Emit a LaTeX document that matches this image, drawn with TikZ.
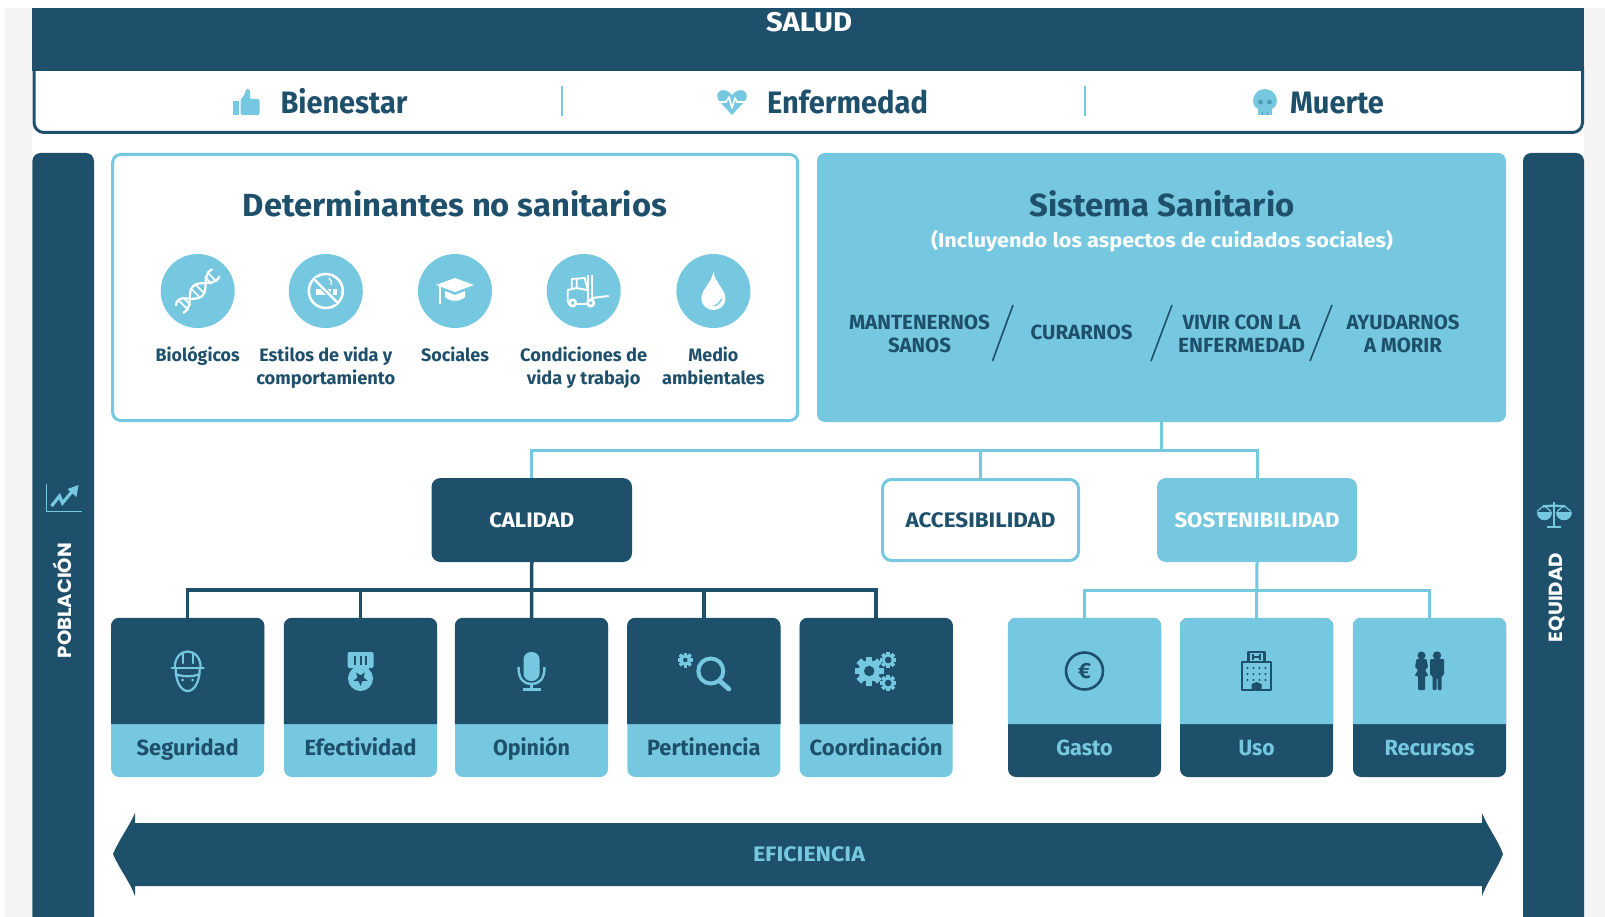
\documentclass[tikz,border=0pt]{standalone}
\usepackage{fontspec}
\usepackage{graphicx}
\setmainfont{Fira Sans}
\newfontfamily\popfont{Poppins}
\definecolor{dark}{HTML}{1F506B}
\definecolor{sky}{HTML}{75C8DF}
\definecolor{paper}{HTML}{F4F4F4}
\definecolor{midsky}{HTML}{4F9DB8}
\newcommand\ft[2]{\resizebox{#1pt}{\height}{#2}}
\tikzset{
  cap/.style={inner sep=0pt,font=\fontsize{#1}{#1}\selectfont\bfseries,text height={0.69pt*#1},text depth=0pt},
  twoline/.style={inner sep=0pt,align=center,font=\fontsize{#1}{23}\selectfont\bfseries},
  lnsky/.style={draw=sky,line width=3pt},
  lndark/.style={draw=dark,line width=3.5pt},
  bigbox/.style={rounded corners=8pt,inner sep=0pt},
  cardnode/.style={minimum width=153pt,minimum height=159pt,rounded corners=8pt,inner sep=0pt},
  medbox/.style={minimum height=84pt,rounded corners=9pt,inner sep=0pt},
  disc/.style={circle,fill=sky,minimum size=74pt,inner sep=0pt},
}
% ---------- icons, all centred on the local origin; y points down
\newcommand\icStar[2]{\fill[#2] (90:#1) -- (126:0.42*#1) -- (162:#1) -- (198:0.42*#1) -- (234:#1) -- (270:0.42*#1) -- (306:#1) -- (342:0.42*#1) -- (18:#1) -- (54:0.42*#1) -- cycle;}
\newcommand\icGear[4]{\begin{scope}[shift={(#1)}]\foreach \a in {0,45,...,135}{\fill[sky,rotate=\a] (-0.22*#2,-#2) rectangle (0.22*#2,#2);\fill[sky,rotate=\a] (-#2,-0.22*#2) rectangle (#2,0.22*#2);}\fill[sky] (0,0) circle (0.74*#2);\fill[#3] (0,0) circle (#4*#2);\end{scope}}
\newcommand\icThumb{%
  \fill[sky] (-13.5,-1) rectangle (-8,13);
  \fill[sky,rounded corners=1.5pt] (-6,-2) -- (-1,-9) -- (-1,-13) -- (3,-13) -- (4,-7) -- (3,-3) -- (13,-3) -- (13,13) -- (-6,13) -- cycle;}
\newcommand\icHeart{%
  \fill[sky] (0,13) -- (-13,-1) .. controls (-19,-10) and (-8,-17) .. (0,-7) .. controls (8,-17) and (19,-10) .. (13,-1) -- cycle;
  \draw[white,line width=1.6pt,line join=round] (-17,0) -- (-6,0) -- (-3,-5) -- (0,6) -- (3,-4) -- (5,0) -- (17,0);}
\newcommand\icSkull{%
  \fill[sky] (-7,13) -- (-7,7) .. controls (-16,3) and (-12,-13) .. (0,-13) .. controls (12,-13) and (16,3) .. (7,7) -- (7,13) -- cycle;
  \fill[midsky] (-4.5,0) circle (2.4) (4.5,0) circle (2.4);
  \draw[midsky,line width=.9pt] (-2.5,10) -- (-2.5,13) (2.5,10) -- (2.5,13);}
\newcommand\icDna{%
  \begin{scope}[rotate=45]
    \draw[white,line width=2.2pt] (-26,-5) .. controls (-17,-12) and (-13,-1) .. (-8,3) .. controls (-3,8) and (3,8) .. (8,3) .. controls (13,-2) and (19,-8) .. (26,-5);
    \draw[white,line width=2.2pt] (-26,5) .. controls (-19,8) and (-13,2) .. (-8,-3) .. controls (-3,-8) and (3,-8) .. (8,-3) .. controls (13,2) and (19,8) .. (26,5);
    \draw[white,line width=1.7pt] (-20,-7) -- (-20,7) (-15,-5) -- (-15,5) (-3,-6) -- (-3,6) (3,-6) -- (3,6) (15,-5) -- (15,5) (20,-7) -- (20,7);
  \end{scope}}
\newcommand\icNoSmoke{%
  \draw[white,line width=2.6pt] (0,0) circle (17);
  \fill[white] (-10,-2) rectangle (5,4);
  \fill[white] (7,-2) rectangle (11,4);
  \draw[white,line width=1.2pt] (5,-6) .. controls (7,-9) and (5,-11) .. (3,-13);
  \draw[sky,line width=5pt] (-11,-12) -- (11,12);
  \draw[white,line width=2.4pt] (-12,-12) -- (12,12);}
\newcommand\icCap{%
  \fill[white] (0,-13) -- (19,-6) -- (0,1) -- (-19,-6) -- cycle;
  \fill[white] (-10,0) -- (0,4) -- (10,0) -- (10,6) .. controls (5,11) and (-5,11) .. (-10,6) -- cycle;
  \draw[white,line width=2pt] (-15,-5) -- (-15,13);}
\newcommand\icLift{%
  \draw[white,line width=1.9pt,line join=round] (-12,-1) -- (-12,-12) -- (1,-13) -- (4,-1);
  \draw[white,line width=1.9pt,line join=round] (-7,-12) -- (-7,-3) -- (3,-1);
  \draw[white,line width=1.9pt,line join=round] (-16,12) -- (-16,-1) -- (-7,-3);
  \draw[white,line width=1.9pt] (-16,13) -- (4,13);
  \draw[white,line width=1.7pt] (4,-16) -- (4,13) (8,-16) -- (8,13);
  \draw[white,line width=2pt] (8,7) -- (25,5);
  \fill[white] (-11,12) circle (4.6) (7,12) circle (4.6);
  \fill[sky] (-11,12) circle (1.9) (7,12) circle (1.9);}
\newcommand\icDrop{%
  \fill[white] (0,-19) .. controls (2,-8) and (12,-1) .. (12,7) .. controls (12,15) and (6,19) .. (0,19) .. controls (-6,19) and (-12,15) .. (-12,7) .. controls (-12,-1) and (-2,-8) .. (0,-19) -- cycle;
  \draw[sky,line width=1.3pt] (8,8) .. controls (7,11) and (4,14) .. (1,15);}
\newcommand\icHelmet{%
  \begin{scope}[line width=2.2pt,line join=round,line cap=round]
    \draw[sky] (-13,-3) .. controls (-13,-25) and (13,-25) .. (13,-3);
    \draw[sky] (-5,-17) -- (-5,-8) (5,-17) -- (5,-8);
    \draw[sky] (-16,-3) -- (16,-3);
    \draw[sky] (-12,-2) .. controls (-12,10) and (-7,20) .. (0,20) .. controls (7,20) and (12,10) .. (12,-2);
    \draw[sky] (-12,3) .. controls (-6,6) and (6,6) .. (12,3);
  \end{scope}
  \fill[sky] (-5,9) circle (1.5) (5,9) circle (1.5);}
\newcommand\icMedal{%
  \fill[sky,rounded corners=2pt] (-13,-19) rectangle (13,-3);
  \draw[dark,line width=2pt] (-5.5,-15) -- (-5.5,-6) (0,-15) -- (0,-6) (5.5,-15) -- (5.5,-6);
  \fill[sky] (-8,-5) rectangle (8,2);
  \fill[sky] (0,7.5) circle (12.5);
  \begin{scope}[shift={(0,7.5)}]\icStar{7.5}{dark}\end{scope}}
\newcommand\icMic{%
  \fill[sky,rounded corners=7.5pt] (-8,-19) rectangle (8,10);
  \draw[sky,line width=2.4pt] (-13,-4) .. controls (-13,9) and (-7,13) .. (0,13) .. controls (7,13) and (13,9) .. (13,-4);
  \draw[sky,line width=2.4pt] (0,13) -- (0,18);
  \draw[sky,line width=2.6pt] (-9,18.5) -- (9,18.5);}
\newcommand\icLens{%
  \draw[sky,line width=4pt] (7,0) circle (12.5);
  \draw[sky,line width=4.8pt,line cap=round] (16,10) -- (25,18);
  \icGear{-18.5,-11}{7.5}{dark}{.3}}
\newcommand\icGears{%
  \icGear{-7,0}{14.5}{dark}{.36}
  \icGear{12,-11}{8}{dark}{.42}
  \icGear{12,12}{8}{dark}{.42}}
\newcommand\icEuro{%
  \draw[dark,line width=2.6pt] (0,0) circle (18.5);
  \node (euroglyph) [inner sep=0pt,text=dark,font=\fontsize{22}{22}\selectfont\bfseries] at (0,0) {€};}
\newcommand\icHosp{%
  \draw[dark,line width=2.5pt,line join=round] (-8,-9) -- (-8,-19) -- (8,-19) -- (8,-9);
  \draw[dark,line width=2.5pt,line join=round] (-14.5,-9) rectangle (14.5,19);
  \draw[dark,line width=1.4pt] (-3.5,-17) -- (-3.5,-11) (3.5,-17) -- (3.5,-11) (-3.5,-14) -- (3.5,-14);
  \foreach \yy in {-3,3,9}{\foreach \xx in {-9,-3,3,9}{\fill[dark] (\xx,\yy) circle (1.2);}}
  \fill[dark] (-5,19) -- (-5,13) -- (0,11) -- (5,13) -- (5,19) -- cycle;}
\newcommand\icPeople{%
  \begin{scope}[shift={(-8,0)}]
    \fill[dark] (0,-15.5) circle (4);
    \fill[dark,rounded corners=1pt] (-5,-12) -- (5,-12) -- (6.5,-4) -- (3.5,-1) -- (7,5) -- (3.5,5) -- (3.5,19) -- (-3.5,19) -- (-3.5,5) -- (-7,5) -- (-3.5,-1) -- (-6.5,-4) -- cycle;
  \end{scope}
  \begin{scope}[shift={(7.5,0)}]
    \fill[dark] (0,-15.5) circle (4.2);
    \fill[dark,rounded corners=1pt] (-7,-12) -- (7,-12) -- (7,4) -- (4.5,5) -- (4.5,19) -- (0.5,19) -- (0.5,7) -- (-0.5,7) -- (-0.5,19) -- (-4.5,19) -- (-4.5,5) -- (-7,4) -- cycle;
  \end{scope}}
\newcommand\icChart{%
  \draw[sky,line width=1.6pt] (-17,-14) -- (-17,13.5) -- (18,13.5);
  \draw[sky,line width=3.2pt,line join=miter] (-12,8) -- (-4,-2) -- (-1,5) -- (9,-7);
  \fill[sky] (4,-9) -- (15,-13) -- (13,-1) -- cycle;}
\newcommand\icScale{%
  \draw[sky,line width=2.4pt] (0,-13) -- (0,11);
  \draw[sky,line width=2.4pt] (-7,12.5) -- (7,12.5);
  \draw[sky,line width=2.2pt] (-11,-8) .. controls (-5,-9) and (5,-9) .. (11,-8);
  \fill[sky] (-17.5,-3) -- (-2,-3) .. controls (-2,8) and (-17.5,8) .. (-17.5,-3) -- cycle;
  \fill[sky] (2,-3) -- (17.5,-3) .. controls (17.5,8) and (2,8) .. (2,-3) -- cycle;
  \draw[sky,line width=1.2pt] (-17,-3) -- (-10,-9) -- (-3,-3) (17,-3) -- (10,-9) -- (3,-3);}
% ---------- a two-tone card: name, x centre, text, top colour, bottom colour, text colour, icon
\newcommand\mkcard[7]{%
  \node (#1) [cardnode,fill=#5] at (#2,697.5) {};
  \fill[#4] (#1.west |- 0,724) [rounded corners=8pt] -- (#1.north west) -- (#1.north east) [sharp corners] -- (#1.east |- 0,724) -- cycle;
  \node (#1txt) [cap=22,text={#6}] at (#2,748) {#3};
  \begin{scope}[shift={(#2,671)}]#7\end{scope}}
\begin{document}
\begin{tikzpicture}[x=1pt,y=-1pt]
\useasboundingbox (0,0) rectangle (1605,917);
\fill[white] (0,0) rectangle (1605,917);
\fill[paper] (5,8) rectangle (1605,917);
\fill[white] (32,8) rectangle (1584,917);
% top band
\draw[dark,line width=3pt,fill=white,rounded corners=10pt] (34,66) -- (34,132.5) -- (1582.5,132.5) -- (1582.5,66);
\fill[dark] (32.4,8) rectangle (1584,71);
\node (salud) [cap=27,text=white] at (809,22.5) {\ft{86}{SALUD}};
\begin{scope}[shift={(246.5,102)}]\icThumb\end{scope}
\node (bien) [cap=31,text=dark] at (344,102.5) {\ft{127}{Bienestar}};
\draw[sky,line width=2.4pt] (562,86) -- (562,116);
\begin{scope}[shift={(732,102)}]\icHeart\end{scope}
\node (enf) [cap=31,text=dark] at (847.5,102.5) {\ft{161}{Enfermedad}};
\draw[sky,line width=2.4pt] (1085,86) -- (1085,116);
\begin{scope}[shift={(1265,102)}]\icSkull\end{scope}
\node (mue) [cap=31,text=dark] at (1337,102.5) {\ft{94}{Muerte}};
% side bars
\fill[dark,rounded corners=8pt] (32.4,930) -- (32.4,153) -- (94,153) -- (94,930) -- cycle;
\fill[dark,rounded corners=8pt] (1523,930) -- (1523,153) -- (1584,153) -- (1584,930) -- cycle;
\begin{scope}[shift={(63.5,498)}]\icChart\end{scope}
\node (pob) [inner sep=0pt,rotate=90,text=white,font={\popfont\fontsize{19}{19}\selectfont\bfseries}] at (62.5,600.5) {\ft{115}{POBLACIÓN}};
\begin{scope}[shift={(1554,514.5)}]\icScale\end{scope}
\node (equ) [inner sep=0pt,rotate=90,text=white,font={\popfont\fontsize{19}{19}\selectfont\bfseries}] at (1556.5,597.5) {\ft{89}{EQUIDAD}};
% determinantes
\node (det) [bigbox,draw=sky,line width=3pt,fill=white,minimum width=685pt,minimum height=266pt] at (455.2,287.5) {};
\node (dettit) [cap=32,text=dark] at (455,205) {\ft{424}{Determinantes no sanitarios}};
\node (d1) [disc] at (197.7,291) {};
\node (d2) [disc] at (325.8,291) {};
\node (d3) [disc] at (455,291) {};
\node (d4) [disc] at (583.7,291) {};
\node (d5) [disc] at (713.4,291) {};
\begin{scope}[shift={(d1.center)}]\icDna\end{scope}
\begin{scope}[shift={(d2.center)}]\icNoSmoke\end{scope}
\begin{scope}[shift={(d3.center)}]\icCap\end{scope}
\begin{scope}[shift={(d4.center)}]\icLift\end{scope}
\begin{scope}[shift={(d5.center)}]\icDrop\end{scope}
\node (l1) [cap=18,text=dark] at (197.7,355) {\ft{84}{Biológicos}};
\node (l2) [twoline=18,text=dark] at (325.8,367.5) {\ft{133}{Estilos de vida y}\\\ft{139}{comportamiento}};
\node (l3) [cap=18,text=dark] at (455,355) {\ft{68}{Sociales}};
\node (l4) [twoline=18,text=dark] at (583.7,367.5) {\ft{127}{Condiciones de}\\\ft{113.5}{vida y trabajo}};
\node (l5) [twoline=18,text=dark] at (713.4,365.5) {\ft{50}{Medio}\\\ft{102.5}{ambientales}};
% sistema
\node (sist) [bigbox,fill=sky,minimum width=689pt,minimum height=269pt] at (1161.5,287.5) {};
\node (sistit) [cap=32,text=dark] at (1162,205) {\ft{265}{Sistema Sanitario}};
\node (sissub) [inner sep=0pt,text=white,font=\fontsize{20}{20}\selectfont\bfseries] at (1162,241) {\ft{462}{(Incluyendo los aspectos de cuidados sociales)}};
\node (f1) [twoline=20.5,text=dark] at (919.5,333.5) {\ft{141}{MANTENERNOS}\\\ft{63}{SANOS}};
\node (f2) [cap=20.5,text=dark] at (1081.5,332) {\ft{102}{CURARNOS}};
\node (f3) [twoline=20.5,text=dark] at (1241.5,333.5) {\ft{118}{VIVIR CON LA}\\\ft{127}{ENFERMEDAD}};
\node (f4) [twoline=20.5,text=dark] at (1403,333.5) {\ft{113}{AYUDARNOS}\\\ft{78}{A MORIR}};
\draw[dark,line width=1.6pt] (1013,305) -- (992.5,361) (1172,305) -- (1151,361) (1332,305) -- (1310,361);
% dimensions
\node (cal) [medbox,fill=dark,minimum width=200.5pt] at (531.75,520) {};
\node (caltxt) [cap=21,text=white] at (cal.center) {\ft{85}{CALIDAD}};
\node (acc) [medbox,draw=sky,line width=3pt,fill=white,minimum width=196pt,minimum height=81pt] at (980.5,520) {};
\node (acctxt) [cap=21,text=dark] at (acc.center) {\ft{150}{ACCESIBILIDAD}};
\node (sos) [medbox,fill=sky,minimum width=200pt] at (1257,520) {};
\node (sostxt) [cap=21,text=white] at (sos.center) {\ft{165}{SOSTENIBILIDAD}};
% cards
\mkcard{seg}{187.7}{\ft{102}{Seguridad}}{dark}{sky}{dark}{\icHelmet}
\mkcard{efe}{360.5}{\ft{112}{Efectividad}}{dark}{sky}{dark}{\icMedal}
\mkcard{opi}{531.5}{\ft{77}{Opinión}}{dark}{sky}{dark}{\icMic}
\mkcard{per}{703.8}{\ft{113.5}{Pertinencia}}{dark}{sky}{dark}{\icLens}
\mkcard{coo}{876.2}{\ft{133}{Coordinación}}{dark}{sky}{dark}{\icGears}
\mkcard{gas}{1084.5}{\ft{56.5}{Gasto}}{sky}{dark}{sky}{\icEuro}
\mkcard{uso}{1256.5}{\ft{36}{Uso}}{sky}{dark}{sky}{\icHosp}
\mkcard{rec}{1429.5}{\ft{90}{Recursos}}{sky}{dark}{sky}{\icPeople}
% connectors
\coordinate (busa) at (sist.south |- 0,450);
\coordinate (busb) at (cal.south |- 0,590);
\coordinate (busc) at (sos.south |- 0,590);
\draw[lnsky] (sist.south) -- (busa);
\draw[lnsky] (cal.north) |- (busa) -| (sos.north);
\draw[lnsky] (acc.north) -- (acc.north |- busa);
\draw[lndark] (cal.south) -- (opi.north);
\draw[lndark] (seg.north) |- (busb) -| (coo.north);
\draw[lndark] (efe.north) -- (efe.north |- busb);
\draw[lndark] (per.north) -- (per.north |- busb);
\draw[lnsky] (sos.south) -- (uso.north);
\draw[lnsky] (gas.north) |- (busc) -| (rec.north);
% efficiency arrow
\fill[dark] (113,854) .. controls (120,838) and (130,825) .. (135,813) -- (135,823) -- (1482,823) -- (1482,813) .. controls (1488,828) and (1498,840) .. (1503,854) .. controls (1498,868) and (1488,880) .. (1482,896) -- (1482,886) -- (135,886) -- (135,896) .. controls (130,882) and (120,870) .. (113,854) -- cycle;
\node (efi) [cap=21,text=sky] at (809,854) {\ft{112}{EFICIENCIA}};
\end{tikzpicture}
\end{document}
